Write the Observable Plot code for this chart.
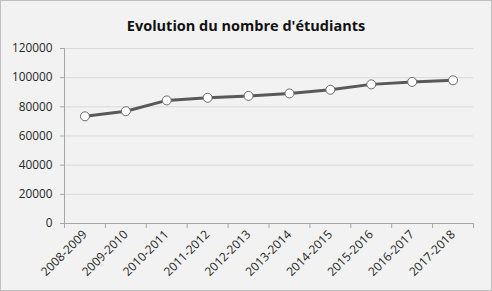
<!DOCTYPE html>
<html><head><meta charset="utf-8">
<script src="https://cdn.jsdelivr.net/npm/d3@7"></script>
<script src="https://cdn.jsdelivr.net/npm/@observablehq/plot@0.6"></script>
<style>
html,body{margin:0;padding:0;background:#f2f2f2;}
#wrap{position:relative;width:492px;height:291px;overflow:hidden;}
#border{position:absolute;left:0;top:0;width:492px;height:291px;box-sizing:border-box;border:1px solid #bfbfbf;pointer-events:none;}
</style>
</head><body>
<div id="wrap"><div id="border"></div></div>
<script>
const title = "Evolution du nombre d'étudiants";
const categories = ["2008-2009","2009-2010","2010-2011","2011-2012","2012-2013","2013-2014","2014-2015","2015-2016","2016-2017","2017-2018"];
const values = [73500, 77000, 84400, 86200, 87500, 89200, 91700, 95400, 97100, 98200];
const yTicks = [0, 20000, 40000, 60000, 80000, 100000, 120000];

const data = categories.map((c, i) => ({pos: i + 0.5, cat: c, value: values[i]}));
const font = "'Open Sans', 'Liberation Sans', sans-serif";

const chart = Plot.plot({
  width: 492,
  height: 291,
  marginTop: 48,
  marginLeft: 64,
  marginRight: 19,
  marginBottom: 68,
  style: {background: "#f2f2f2", fontFamily: font, fontSize: "11.5px", color: "#262626"},
  x: {type: "linear", domain: [0, categories.length], axis: null},
  y: {domain: [0, 120000], axis: null},
  marks: [
    Plot.gridY(yTicks, {stroke: "#d9d9d9", strokeOpacity: 1, strokeWidth: 1}),
    Plot.axisY({ticks: yTicks, tickSize: 4, tickPadding: 8, stroke: "#a6a6a6", tickFormat: d => String(d), label: null, fill: "#262626", fontSize: 11.8}),
    Plot.ruleX([0], {stroke: "#a6a6a6"}),
    Plot.ruleY([0], {stroke: "#a6a6a6"}),
    Plot.axisX({ticks: d3.range(0, categories.length + 1), tickSize: 5, tickFormat: () => "", stroke: "#a6a6a6", label: null}),
    Plot.axisX({ticks: data.map(d => d.pos), tickSize: 0, tickPadding: 9, tickRotate: -45, tickFormat: d => categories[Math.round(d - 0.5)], label: null, fill: "#262626", fontSize: 12}),
    Plot.line(data, {x: "pos", y: "value", stroke: "#595959", strokeWidth: 3}),
    Plot.dot(data, {x: "pos", y: "value", r: 4.5, fill: "white", stroke: "#6b6b6b", strokeWidth: 1}),
    Plot.text([title], {frameAnchor: "top", dx: -23, dy: -28, text: d => d, fontSize: 14.5, fontWeight: "bold", fill: "#111", fontFamily: font})
  ]
});
document.getElementById("wrap").prepend(chart);
</script>
</body></html>
